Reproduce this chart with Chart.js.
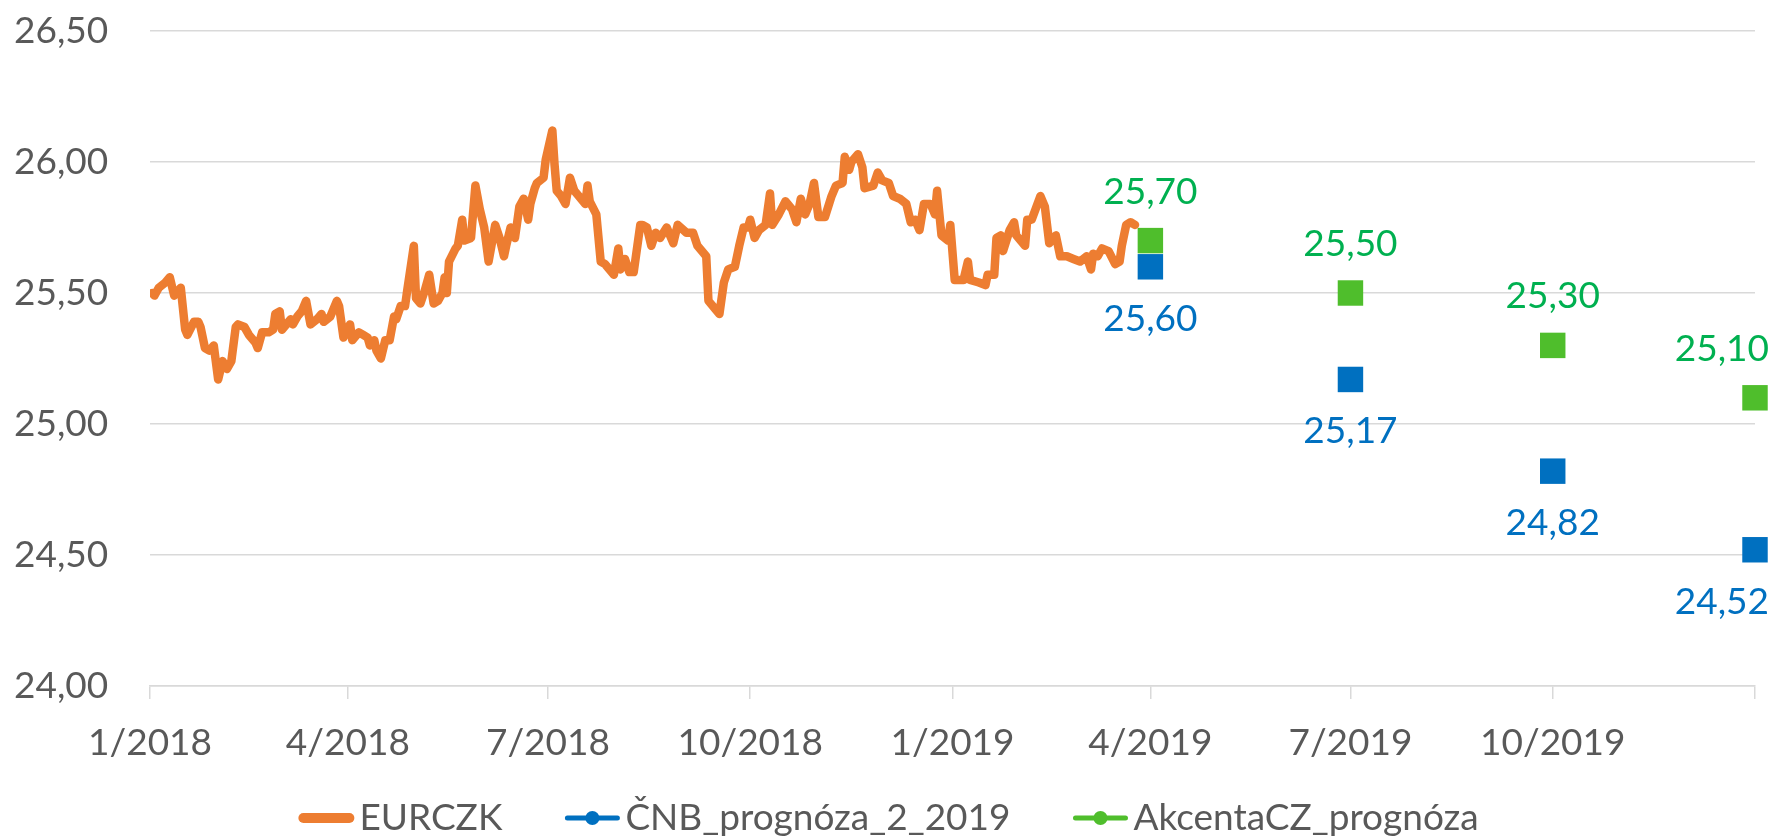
<!DOCTYPE html>
<html>
<head>
<meta charset="utf-8">
<script src="https://cdn.jsdelivr.net/npm/chart.js@4/dist/chart.umd.min.js"></script>
<style>
  html, body { margin: 0; padding: 0; background: #ffffff; }
  #wrap { width: 1777px; height: 837px; }
</style>
</head>
<body>
<div id="wrap"><canvas id="c" width="1777" height="837"></canvas></div>
<script>
// ---- DATA (day offsets counted from 1 Jan 2018) ----
const eurczkDays = [
  1,2,4,7,9,11,12,14,16,17,20,22,23,25,27,29,31,33,35,37,39,40,43,45,48,49,51,54,56,57,59,60,62,64,65,67,69,71,73,76,78,79,82,85,86,88,89,91,92,95,97,99,100,102,103,105,107,109,111,
  112,114,116,117,120,121,123,125,127,129,131,133,134,135,136,139,140,142,143,146,148,150,152,154,157,159,161,162,164,166,168,170,172,173,175,176,179,180,183,184,185,187,189,191,193,195,198,199,200,203,205,207,211,213,214,216,218,220,223,
  224,226,228,230,232,235,238,240,244,247,249,253,254,257,259,261,263,266,268,270,272,273,275,277,280,282,283,286,289,292,294,296,298,300,302,304,307,310,312,315,316,318,319,322,324,325,329,331,333,336,
  338,341,344,346,348,350,352,355,357,358,360,363,364,366,370,372,373,377,380,381,384,385,387,388,391,393,394,398,399,401,405,407,409,410,412,414,417,420,423,426,428,429,431,433,436,439,441,442,444,446,448
];
const eurczkValues = [
  25.50,25.49,25.52,25.54,25.56,25.49,25.50,25.52,25.36,25.34,25.39,25.39,25.37,25.29,25.28,25.30,25.17,25.24,25.21,25.24,25.37,25.38,25.37,25.34,25.31,25.29,25.35,25.35,25.36,25.42,25.43,25.36,25.38,25.40,25.38,25.41,25.43,25.47,25.38,25.40,25.42,25.39,25.41,25.47,25.45,25.33,25.35,25.38,25.32,25.35,25.34,25.33,25.30,25.32,25.28,25.25,25.32,25.32,25.41,
  25.40,25.45,25.45,25.51,25.68,25.48,25.46,25.51,25.57,25.46,25.47,25.50,25.56,25.50,25.62,25.67,25.68,25.78,25.70,25.71,25.91,25.82,25.75,25.62,25.76,25.71,25.64,25.68,25.75,25.71,25.83,25.86,25.78,25.84,25.90,25.92,25.94,26.01,26.12,25.99,25.89,25.87,25.84,25.94,25.89,25.87,25.84,25.91,25.85,25.80,25.62,25.61,25.57,25.67,25.59,25.63,25.58,25.58,25.76,
  25.76,25.75,25.68,25.73,25.71,25.75,25.69,25.76,25.73,25.73,25.68,25.64,25.47,25.44,25.42,25.54,25.59,25.60,25.68,25.75,25.75,25.78,25.71,25.74,25.76,25.88,25.76,25.80,25.85,25.82,25.77,25.86,25.80,25.84,25.92,25.79,25.79,25.87,25.91,25.92,26.02,25.97,26.00,26.03,25.98,25.90,25.91,25.96,25.93,25.92,
  25.87,25.86,25.84,25.77,25.78,25.74,25.84,25.84,25.80,25.89,25.72,25.70,25.76,25.55,25.55,25.62,25.55,25.54,25.53,25.57,25.57,25.71,25.72,25.66,25.74,25.77,25.72,25.68,25.78,25.78,25.87,25.83,25.69,25.70,25.72,25.64,25.64,25.63,25.62,25.64,25.59,25.65,25.64,25.67,25.66,25.61,25.62,25.68,25.76,25.77,25.76
];
const forecastDays = [455, 546, 638, 730];
const cnbValues = [25.60, 25.17, 24.82, 24.52];
const akcentaValues = [25.70, 25.50, 25.30, 25.10];
const seriesNames = ['EURCZK', 'ČNB_prognóza_2_2019', 'AkcentaCZ_prognóza'];
const xTickDays = [0, 90, 181, 273, 365, 455, 546, 638, 730];
const xTickLabels = ['1/2018', '4/2018', '7/2018', '10/2018', '1/2019', '4/2019', '7/2019', '10/2019', ''];
const yMin = 24.0, yMax = 26.5, yStep = 0.5;

// ---- STYLE ----
const FONT = "Lato, 'Open Sans', sans-serif";
const FSIZE = 37;
const TXT = '#595959';
const GRID = '#D9D9D9';
const ORANGE = '#ED7D31', BLUE = '#0070C0', GREEN = '#4FBE2C', GREEN_TXT = '#00B050';

const toXY = (xs, ys) => xs.map((x, i) => ({ x: x, y: ys[i] }));
const fmt = v => v.toFixed(2).replace('.', ',');

const dataLabels = {
  id: 'dataLabels',
  afterDatasetsDraw(chart) {
    const ctx = chart.ctx;
    ctx.save();
    ctx.font = FSIZE + 'px ' + FONT;
    ctx.textAlign = 'center';
    ctx.textBaseline = 'middle';
    chart.data.datasets.forEach((ds, di) => {
      if (!ds.labelPos) return;
      const meta = chart.getDatasetMeta(di);
      meta.data.forEach((pt, i) => {
        const txt = fmt(ds.data[i].y);
        const w = ctx.measureText(txt).width;
        const x = Math.min(pt.x, chart.width - 8 - w / 2);
        const y = ds.labelPos === 'above' ? pt.y - 49 : pt.y + 52;
        ctx.fillStyle = ds.labelColor;
        ctx.fillText(txt, x, y);
      });
    });
    ctx.restore();
  }
};

const legendPlugin = {
  id: 'customLegend',
  afterDraw(chart) {
    const ctx = chart.ctx;
    ctx.save();
    ctx.font = FSIZE + 'px ' + FONT;
    ctx.textBaseline = 'middle';
    ctx.textAlign = 'left';
    const sampleW = 56, gapText = 5, gapItem = 62;
    const items = chart.data.datasets.map(ds => ({ label: ds.label, color: ds.legendColor, kind: ds.legendKind }));
    let total = 0;
    items.forEach((it, i) => {
      it.w = ctx.measureText(it.label).width;
      total += sampleW + gapText + it.w + (i < items.length - 1 ? gapItem : 0);
    });
    let x = (chart.width - total) / 2;
    const y = 818;
    items.forEach(it => {
      ctx.strokeStyle = it.color;
      ctx.lineCap = 'round';
      if (it.kind === 'line') {
        ctx.lineWidth = 10;
        ctx.beginPath(); ctx.moveTo(x + 5, y); ctx.lineTo(x + sampleW - 5, y); ctx.stroke();
      } else {
        ctx.lineWidth = 5;
        ctx.beginPath(); ctx.moveTo(x + 3, y); ctx.lineTo(x + sampleW - 3, y); ctx.stroke();
        ctx.fillStyle = it.color;
        ctx.beginPath(); ctx.arc(x + sampleW / 2, y, 7, 0, Math.PI * 2); ctx.fill();
      }
      ctx.fillStyle = TXT;
      ctx.fillText(it.label, x + sampleW + gapText, y);
      x += sampleW + gapText + it.w + gapItem;
    });
    ctx.restore();
  }
};

Chart.defaults.font.family = FONT;
Chart.defaults.font.size = FSIZE;
Chart.defaults.color = TXT;

new Chart(document.getElementById('c'), {
  type: 'line',
  data: {
    datasets: [
      {
        label: seriesNames[0],
        data: toXY(eurczkDays, eurczkValues),
        borderColor: ORANGE,
        borderWidth: 8.5,
        borderJoinStyle: 'round',
        borderCapStyle: 'round',
        pointRadius: 0,
        tension: 0,
        legendColor: ORANGE,
        legendKind: 'line',
        order: 3
      },
      {
        label: seriesNames[1],
        data: toXY(forecastDays, cnbValues),
        showLine: false,
        pointStyle: 'rect',
        pointRadius: 18,
        pointBorderWidth: 0,
        backgroundColor: BLUE,
        borderColor: BLUE,
        clip: false,
        labelPos: 'below',
        labelColor: BLUE,
        legendColor: BLUE,
        legendKind: 'marker',
        order: 2
      },
      {
        label: seriesNames[2],
        data: toXY(forecastDays, akcentaValues),
        showLine: false,
        pointStyle: 'rect',
        pointRadius: 18,
        pointBorderWidth: 0,
        backgroundColor: GREEN,
        borderColor: GREEN,
        clip: false,
        labelPos: 'above',
        labelColor: GREEN_TXT,
        legendColor: GREEN,
        legendKind: 'marker',
        order: 1
      }
    ]
  },
  options: {
    responsive: false,
    animation: false,
    events: [],
    layout: { padding: { top: 31, right: 20, bottom: 0, left: 14 } },
    plugins: { legend: { display: false }, tooltip: { enabled: false } },
    scales: {
      x: {
        type: 'linear',
        min: xTickDays[0],
        max: xTickDays[xTickDays.length - 1],
        afterBuildTicks: s => { s.ticks = xTickDays.map(v => ({ value: v })); },
        afterFit: s => { s.height = 151; },
        ticks: {
          autoSkip: false,
          maxRotation: 0,
          padding: 22,
          color: TXT,
          font: { size: FSIZE },
          callback: (v, i) => xTickLabels[i]
        },
        grid: { drawOnChartArea: false, drawTicks: true, tickLength: 13, color: GRID, lineWidth: 1.5 },
        border: { display: true, color: GRID, width: 1.5 }
      },
      y: {
        min: yMin,
        max: yMax,
        afterFit: s => { s.width = 136; },
        ticks: {
          stepSize: yStep,
          padding: 0,
          crossAlign: 'far',
          color: TXT,
          font: { size: FSIZE },
          callback: v => fmt(v)
        },
        grid: { color: GRID, lineWidth: 1.5, drawTicks: false },
        border: { display: false }
      }
    }
  },
  plugins: [dataLabels, legendPlugin]
});
</script>
</body>
</html>
